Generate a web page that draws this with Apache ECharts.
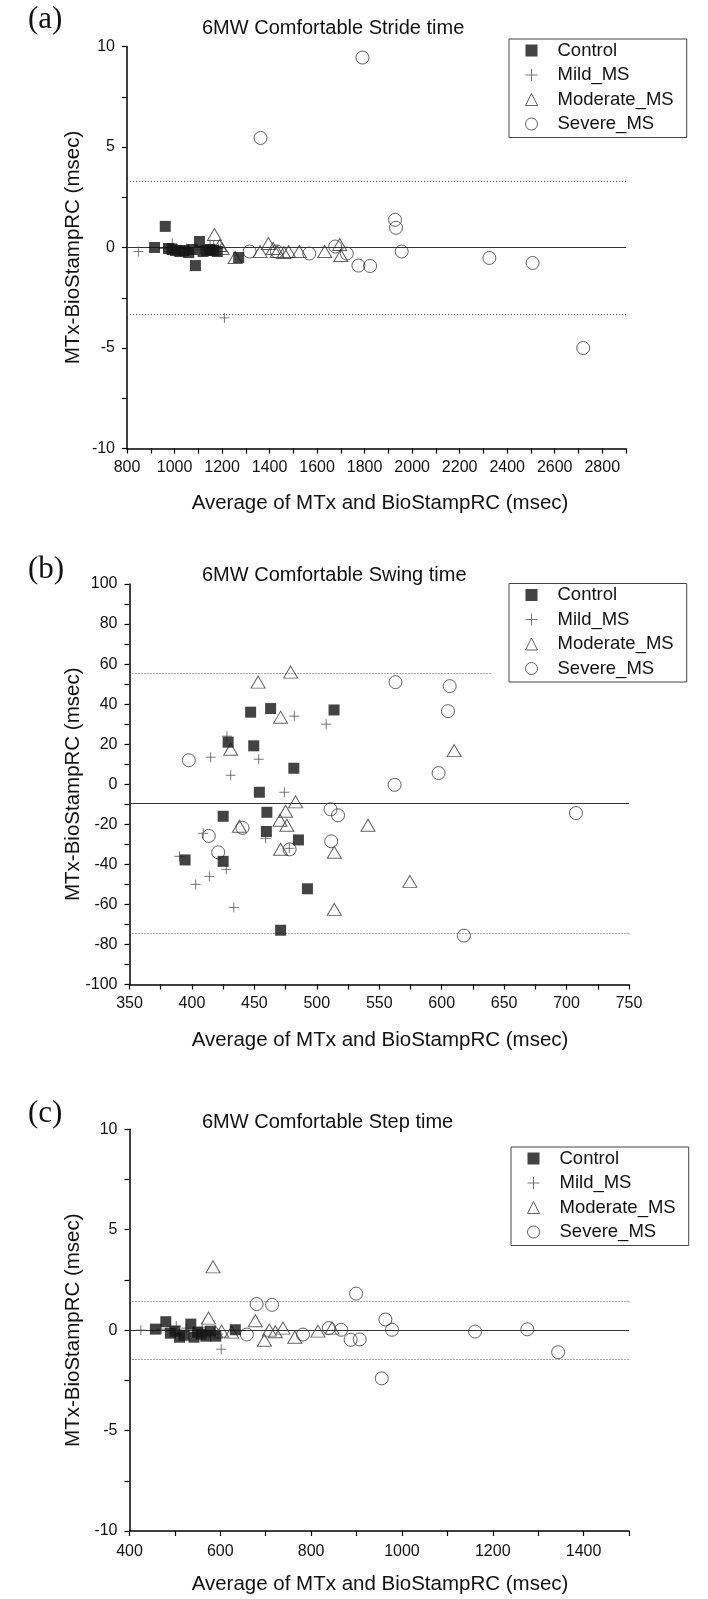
<!DOCTYPE html>
<html><head><meta charset="utf-8">
<script src="https://cdn.jsdelivr.net/npm/echarts@6/dist/echarts.min.js"></script>
<style>html,body{margin:0;padding:0;background:#fff}#chart{width:708px;height:1599px}</style>
</head><body><div id="chart"></div>
<script>
const groupNames = ['Control', 'Mild_MS', 'Moderate_MS', 'Severe_MS'];
const panelLabels = ['(a)', '(b)', '(c)'];
const panelTitles = ['6MW Comfortable Stride time', '6MW Comfortable Swing time', '6MW Comfortable Step time'];
const xAxisTitle = 'Average of MTx and BioStampRC (msec)';
const yAxisTitle = 'MTx-BioStampRC (msec)';

// (a) Stride time
const strideControl = [[916,0.0],[961,1.05],[975,-0.05],[990,-0.1],[1005,-0.15],[1022,-0.2],[1040,-0.15],[1060,-0.25],[1075,-0.1],[1088,-0.9],[1105,0.3],[1120,-0.2],[1135,-0.15],[1150,-0.1],[1165,-0.15],[1180,-0.2],[1270,-0.5]];
const strideMild = [[848,-0.2],[955,-0.05],[990,0.2],[1010,-0.1],[1050,-0.05],[1110,-0.1],[1150,0.15],[1165,0.1],[1185,-0.05],[1210,-3.5]];
const strideModerate = [[1168,0.65],[1190,0.1],[1200,-0.05],[1255,-0.5],[1360,-0.2],[1395,0.2],[1415,-0.05],[1432,-0.2],[1460,-0.25],[1480,-0.2],[1525,-0.2],[1632,-0.2],[1695,0.15],[1700,-0.4]];
const strideSevere = [[1316,-0.2],[1362,5.45],[1431,-0.2],[1567,-0.3],[1676,0.05],[1725,-0.3],[1774,-0.9],[1791,9.45],[1823,-0.92],[1928,1.38],[1932,0.98],[1956,-0.2],[2325,-0.52],[2507,-0.77],[2720,-5.0]];
const strideMean = 0;
const strideLimits = [3.3, -3.3];

// (b) Swing time
const swingControl = [[394.5,-37.8],[425,-16],[429,21],[425,-38.5],[447,36],[449.5,19.2],[454,-4],[463,37.8],[460,-14],[459.6,-23.6],[481.6,8],[485.3,-27.8],[471,-72.9],[492.5,-52.2],[513.8,37.1]];
const swingMild = [[390,-36],[403,-50],[409,-24.5],[414,-46],[415,13.5],[427.5,-42.5],[428,24],[431,4.5],[433.5,-61.5],[453.5,12.5],[459,-27],[474,-4],[478,-32],[482,34],[507.5,30]];
const swingModerate = [[431,17.5],[438,-21],[453,51],[471,33.5],[479,56],[471,-32.5],[470.5,-18],[475,-13.5],[476,-20.5],[483,-8.8],[514,-34],[514,-62.5],[541,-20.5],[574.5,-48.5],[610,16.8]];
const swingSevere = [[397.5,12],[413.5,-25.8],[421,-34],[440.5,-21.8],[478.2,-32.5],[511,-12.5],[517,-15.5],[511.5,-28.5],[563,51],[562.3,-0.3],[597.5,5.6],[605,36.5],[606.4,49],[617.8,-75.6],[707.5,-14.4]];
const swingMean = -9.5;
const swingLimits = [55.2, -74.3];
const swingUpperLimitEnd = 640;

// (c) Step time
const stepControl = [[457,0.05],[480,0.42],[490,-0.15],[500,-0.05],[510,-0.35],[520,-0.25],[535,0.3],[542,-0.35],[550,-0.1],[558,-0.2],[568,-0.3],[578,-0.05],[590,-0.3],[633,0.02]];
const stepMild = [[425,0],[470,0.05],[503,0.2],[525,0.1],[560,0.15],[595,-0.2],[602,-0.95]];
const stepModerate = [[574,0.6],[584,3.15],[590,-0.1],[603,-0.05],[625,-0.1],[677,0.47],[697,-0.5],[708,0],[721,-0.08],[738,0.1],[764,-0.35],[815,-0.05],[846,0.1]];
const stepSevere = [[658.5,-0.22],[680,1.3],[714,1.26],[782,-0.22],[839,0.1],[866,0.02],[887,-0.48],[907,-0.46],[899,1.82],[955.5,-2.4],[963.5,0.53],[978,0.02],[1161,-0.07],[1276,0.04],[1344,-1.1]];
const stepMean = 0;
const stepLimits = [1.44, -1.44];

// axis ranges: [min, max, tick step, label step]
const xAxisRanges = [[800, 2900, 100, 200], [350, 750, 25, 50], [400, 1500, 100, 200]];
const yAxisRanges = [[-10, 10, 2.5, 5], [-100, 100, 10, 20], [-10, 10, 2.5, 5]];

const FONT = '"Liberation Sans", Arial, sans-serif';
const grids = [
  {left: 127, top: 46.5, width: 499, height: 402},
  {left: 129.5, top: 584, width: 499.5, height: 400.5},
  {left: 129.5, top: 1129.3, width: 499.5, height: 401.7}
];
const legendPos = [{left: 509, top: 39}, {left: 509, top: 583.5}, {left: 511, top: 1147}];
const titleY = [28, 575, 1122];
const labelY = [20, 570, 1114];
const xNameY = [503, 1040, 1584];
const xLabelMargin = [11, 11, 13];

const seriesStyles = [
  {symbol: 'rect', symbolSize: 11, z: 4, itemStyle: {color: '#141414', borderWidth: 0}},
  {symbol: 'path://M0,5L10,5M5,0L5,10', symbolSize: 10, z: 3, itemStyle: {color: 'rgba(0,0,0,0)', borderColor: '#555', borderWidth: 1}},
  {symbol: 'triangle', symbolSize: [14, 12], z: 2, itemStyle: {color: 'rgba(0,0,0,0)', borderColor: '#3a3a3a', borderWidth: 1}},
  {symbol: 'circle', symbolSize: 13, z: 2, itemStyle: {color: 'rgba(0,0,0,0)', borderColor: '#3a3a3a', borderWidth: 1}}
];

const panelData = [
  [strideControl, strideMild, strideModerate, strideSevere],
  [swingControl, swingMild, swingModerate, swingSevere],
  [stepControl, stepMild, stepModerate, stepSevere]
];
const dotted = {type: [1, 2], color: '#555', width: 1};
const solid = {type: 'solid', color: '#333', width: 1};
const markLines = [
  [{yAxis: strideMean, lineStyle: solid}, {yAxis: strideLimits[0], lineStyle: dotted}, {yAxis: strideLimits[1], lineStyle: dotted}],
  [{yAxis: swingMean, lineStyle: solid},
   [{coord: [xAxisRanges[1][0], swingLimits[0]], lineStyle: dotted}, {coord: [swingUpperLimitEnd, swingLimits[0]]}],
   {yAxis: swingLimits[1], lineStyle: dotted}],
  [{yAxis: stepMean, lineStyle: solid}, {yAxis: stepLimits[0], lineStyle: dotted}, {yAxis: stepLimits[1], lineStyle: dotted}]
];

function stepFormatter(step) {
  return function (v) {
    const r = Math.abs(v / step - Math.round(v / step));
    return r < 1e-6 ? String(Math.round(v * 100) / 100) : '';
  };
}

const xAxes = xAxisRanges.map((r, i) => ({
  type: 'value', gridIndex: i, min: r[0], max: r[1], interval: r[2],
  splitLine: {show: false},
  axisLine: {onZero: false, lineStyle: {color: '#000', width: 1.5}},
  axisTick: {length: 5, lineStyle: {color: '#000', width: 1.2}},
  axisLabel: {formatter: stepFormatter(r[3]), margin: xLabelMargin[i], color: '#111', fontSize: 16, fontFamily: FONT, showMinLabel: true, showMaxLabel: true, hideOverlap: false}
}));
const yAxes = yAxisRanges.map((r, i) => ({
  type: 'value', gridIndex: i, min: r[0], max: r[1], interval: r[2],
  splitLine: {show: false},
  axisLine: {onZero: false, lineStyle: {color: '#000', width: 1.5}},
  axisTick: {length: 5, lineStyle: {color: '#000', width: 1.2}},
  axisLabel: {formatter: stepFormatter(r[3]), margin: 12, color: '#111', fontSize: 16, fontFamily: FONT, showMinLabel: true, showMaxLabel: true, hideOverlap: false}
}));

const series = [];
panelData.forEach((groups, p) => {
  groups.forEach((data, g) => {
    const s = Object.assign({
      type: 'scatter', name: groupNames[g], xAxisIndex: p, yAxisIndex: p,
      data: data, silent: true, emphasis: {disabled: true}
    }, JSON.parse(JSON.stringify(seriesStyles[g])));
    if (g === 3) {
      s.markLine = {silent: true, symbol: 'none', z: 1, label: {show: false}, animation: false, data: markLines[p]};
    }
    series.push(s);
  });
});

const legends = legendPos.map(pos => ({
  orient: 'vertical', left: pos.left, top: pos.top,
  data: groupNames, selectedMode: false,
  itemWidth: 12, itemHeight: 12, itemGap: 5.5,
  padding: [2, 13, 4, 16],
  borderColor: '#444', borderWidth: 1, backgroundColor: '#fff',
  itemStyle: {borderWidth: 1},
  textStyle: {fontSize: 18.5, fontFamily: FONT, color: '#111', lineHeight: 18, padding: [0, 0, 0, 15]}
}));

const graphics = [];
for (let p = 0; p < 3; p++) {
  graphics.push({type: 'text', x: 202, y: titleY[p], style: {text: panelTitles[p], font: '20px ' + FONT, fill: '#111', textAlign: 'left', textVerticalAlign: 'middle'}});
  graphics.push({type: 'text', x: 28, y: labelY[p], style: {text: panelLabels[p], font: '31px "Liberation Serif", "Times New Roman", serif', fill: '#111', textAlign: 'left', textVerticalAlign: 'middle'}});
  graphics.push({type: 'text', x: 380, y: xNameY[p], style: {text: xAxisTitle, font: '20.5px ' + FONT, fill: '#111', textAlign: 'center', textVerticalAlign: 'middle'}});
  graphics.push({type: 'text', x: 73, y: grids[p].top + grids[p].height / 2, rotation: Math.PI / 2, style: {text: yAxisTitle, font: '20.5px ' + FONT, fill: '#111', textAlign: 'center', textVerticalAlign: 'middle'}});
}

const chart = echarts.init(document.getElementById('chart'), null, {renderer: 'canvas'});
chart.setOption({
  animation: false,
  backgroundColor: '#fff',
  grid: grids,
  xAxis: xAxes,
  yAxis: yAxes,
  legend: legends,
  series: series,
  graphic: graphics
});
</script></body></html>
